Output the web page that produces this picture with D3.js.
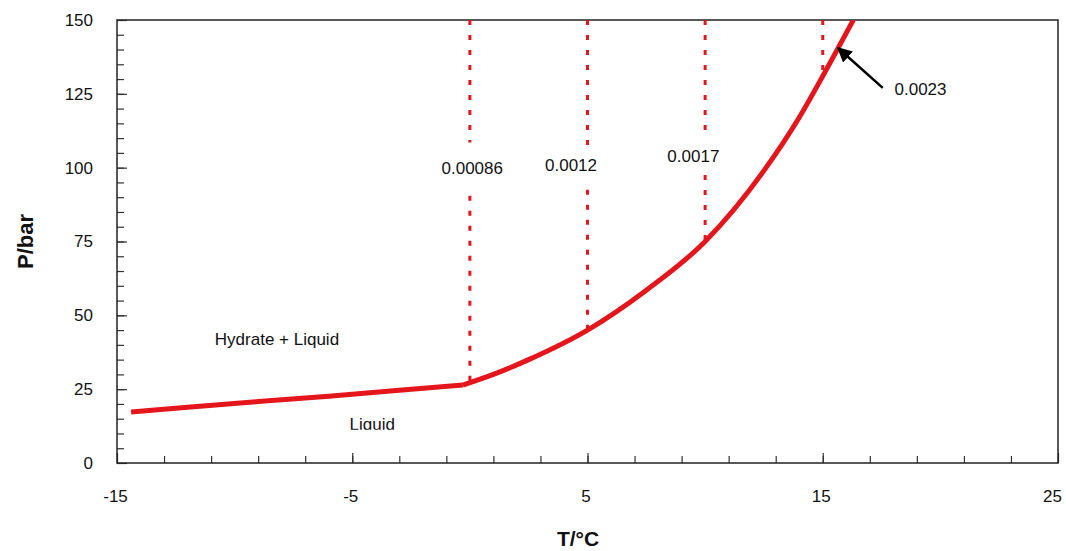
<!DOCTYPE html>
<html>
<head>
<meta charset="utf-8">
<script src="https://cdn.jsdelivr.net/npm/d3@7"></script>
<style>
  body { margin: 0; background: #fff; }
  text { font-family: "Liberation Sans", Arial, sans-serif; fill: #111; }
</style>
</head>
<body>
<script>
// hydrate equilibrium curve: liquid branch and hydrate branch
var liquidT = [-14.4, -12, -9, -6, -3, -0.3];
var liquidP = [17.3, 18.9, 20.8, 22.6, 24.6, 26.4];
var hydrateT = [-0.3, 1, 2.5, 5, 7.5, 10, 12.5, 14, 15, 16.3];
var hydrateP = [26.4, 30, 35, 45, 58.5, 75, 99, 117, 131, 150];

// mole-fraction markers (dashed verticals)
var markT = [0, 5, 10, 15];
var markLabel = ["0.00086", "0.0012", "0.0017", "0.0023"];
var markGapTop = [108.5, 106.5, 110.5, null];
var markGapBottom = [90.5, 92.5, 97.5, null];

var xTickLabels = [-15, -5, 5, 15, 25];
var yTickLabels = [0, 25, 50, 75, 100, 125, 150];

var margin = {top: 20, right: 8, bottom: 88, left: 117};
var W = 1066, H = 551;
var width = W - margin.left - margin.right;
var height = H - margin.top - margin.bottom;
var fs = "17px";

var svg = d3.select("body").append("svg")
    .attr("width", W)
    .attr("height", H);

var g = svg.append("g")
    .attr("transform", "translate(" + margin.left + "," + margin.top + ")");

var x = d3.scaleLinear().domain([-15, 25]).range([0, width]);
var y = d3.scaleLinear().domain([0, 150]).range([height, 0]);

g.append("defs").append("clipPath").attr("id", "plot")
  .append("rect").attr("width", width).attr("height", height);

// minor ticks
g.append("g")
    .attr("transform", "translate(0," + height + ")")
    .call(d3.axisBottom(x).tickValues(d3.range(-13, 25, 2)).tickSize(-7).tickFormat(""))
    .call(function(s) { s.select(".domain").remove(); });
g.append("g")
    .call(d3.axisLeft(y).tickValues(d3.range(5, 150, 5)).tickSize(-7).tickFormat(""))
    .call(function(s) { s.select(".domain").remove(); });

// major ticks with labels
var plain = function(d) { return String(d); };
var bottomAxis = g.append("g")
    .attr("transform", "translate(0," + height + ")")
    .call(d3.axisBottom(x).tickValues(xTickLabels).tickSize(-10).tickPadding(27).tickFormat(plain));
bottomAxis.select(".domain").remove();
bottomAxis.selectAll("text")
    .attr("font-size", fs)
    .attr("dx", function(d) { return d == 25 ? -6 : -2; });

var leftAxis = g.append("g")
    .call(d3.axisLeft(y).tickValues(yTickLabels).tickSize(-10).tickPadding(24).tickFormat(plain));
leftAxis.select(".domain").remove();
leftAxis.selectAll("text").attr("font-size", fs);

g.selectAll(".tick line").attr("stroke", "#333").attr("stroke-width", 1.2);

// frame
g.append("rect")
    .attr("width", width)
    .attr("height", height)
    .attr("fill", "none")
    .attr("stroke", "#222")
    .attr("stroke-width", 1.5);

// dashed markers
var hydrateAt = d3.scaleLinear().domain(hydrateT).range(hydrateP);
var red = "#e4161b";
markT.forEach(function(t, i) {
  var segs = [];
  var bottom = hydrateAt(t);
  if (markGapTop[i] != null) {
    segs.push([150, markGapTop[i]]);
    segs.push([markGapBottom[i], bottom]);
  } else {
    segs.push([150, bottom]);
  }
  segs.forEach(function(s) {
    g.append("line")
        .attr("x1", x(t)).attr("x2", x(t))
        .attr("y1", y(s[0])).attr("y2", y(s[1]))
        .attr("stroke", red)
        .attr("stroke-width", 3)
        .attr("stroke-dasharray", "5,10");
  });
});

// curve
var line = d3.line()
    .x(function(d) { return x(d[0]); })
    .y(function(d) { return y(d[1]); });

g.append("path")
    .datum(d3.zip(liquidT, liquidP))
    .attr("d", line)
    .attr("fill", "none")
    .attr("stroke", red)
    .attr("stroke-width", 5);

g.append("path")
    .datum(d3.zip(hydrateT, hydrateP))
    .attr("clip-path", "url(#plot)")
    .attr("d", line.curve(d3.curveMonotoneX))
    .attr("fill", "none")
    .attr("stroke", red)
    .attr("stroke-width", 5);

// marker labels
var labelPos = [[0.1, 100], [4.3, 101], [9.5, 104], [18.05, 126.5]];
markLabel.forEach(function(t, i) {
  g.append("text")
      .attr("x", x(labelPos[i][0]))
      .attr("y", y(labelPos[i][1]))
      .attr("text-anchor", i == 3 ? "start" : "middle")
      .attr("dy", "0.35em")
      .attr("font-size", fs)
      .text(t);
});

// arrow to the 0.0023 point
svg.append("defs").append("marker")
    .attr("id", "head")
    .attr("viewBox", "0 0 10 10")
    .attr("refX", 9).attr("refY", 5)
    .attr("markerWidth", 6).attr("markerHeight", 6)
    .attr("orient", "auto")
  .append("path")
    .attr("d", "M0,0 L10,5 L0,10 Z")
    .attr("fill", "#000");

g.append("line")
    .attr("x1", x(17.55)).attr("y1", y(127))
    .attr("x2", x(15.65)).attr("y2", y(140.5))
    .attr("stroke", "#000")
    .attr("stroke-width", 2.5)
    .attr("marker-end", "url(#head)");

// region labels
g.append("text")
    .attr("x", x(-8.2)).attr("y", y(42))
    .attr("text-anchor", "middle")
    .attr("dy", "0.35em")
    .attr("font-size", fs)
    .text("Hydrate + Liquid");

g.append("defs").append("clipPath").attr("id", "liq")
  .append("rect").attr("x", x(-8)).attr("y", y(20)).attr("width", 200).attr("height", y(11.3) - y(20));
g.append("text")
    .attr("clip-path", "url(#liq)")
    .attr("x", x(-4.15)).attr("y", y(13.3))
    .attr("text-anchor", "middle")
    .attr("dy", "0.35em")
    .attr("font-size", fs)
    .text("Liquid");

// axis titles
svg.append("text")
    .attr("x", 578).attr("y", 546)
    .attr("text-anchor", "middle")
    .attr("font-size", "21px")
    .attr("font-weight", "bold")
    .text("T/°C");

svg.append("text")
    .attr("transform", "translate(33," + (margin.top + height / 2) + ") rotate(-90)")
    .attr("text-anchor", "middle")
    .attr("font-size", "22px")
    .attr("font-weight", "bold")
    .text("P/bar");
</script>
</body>
</html>
